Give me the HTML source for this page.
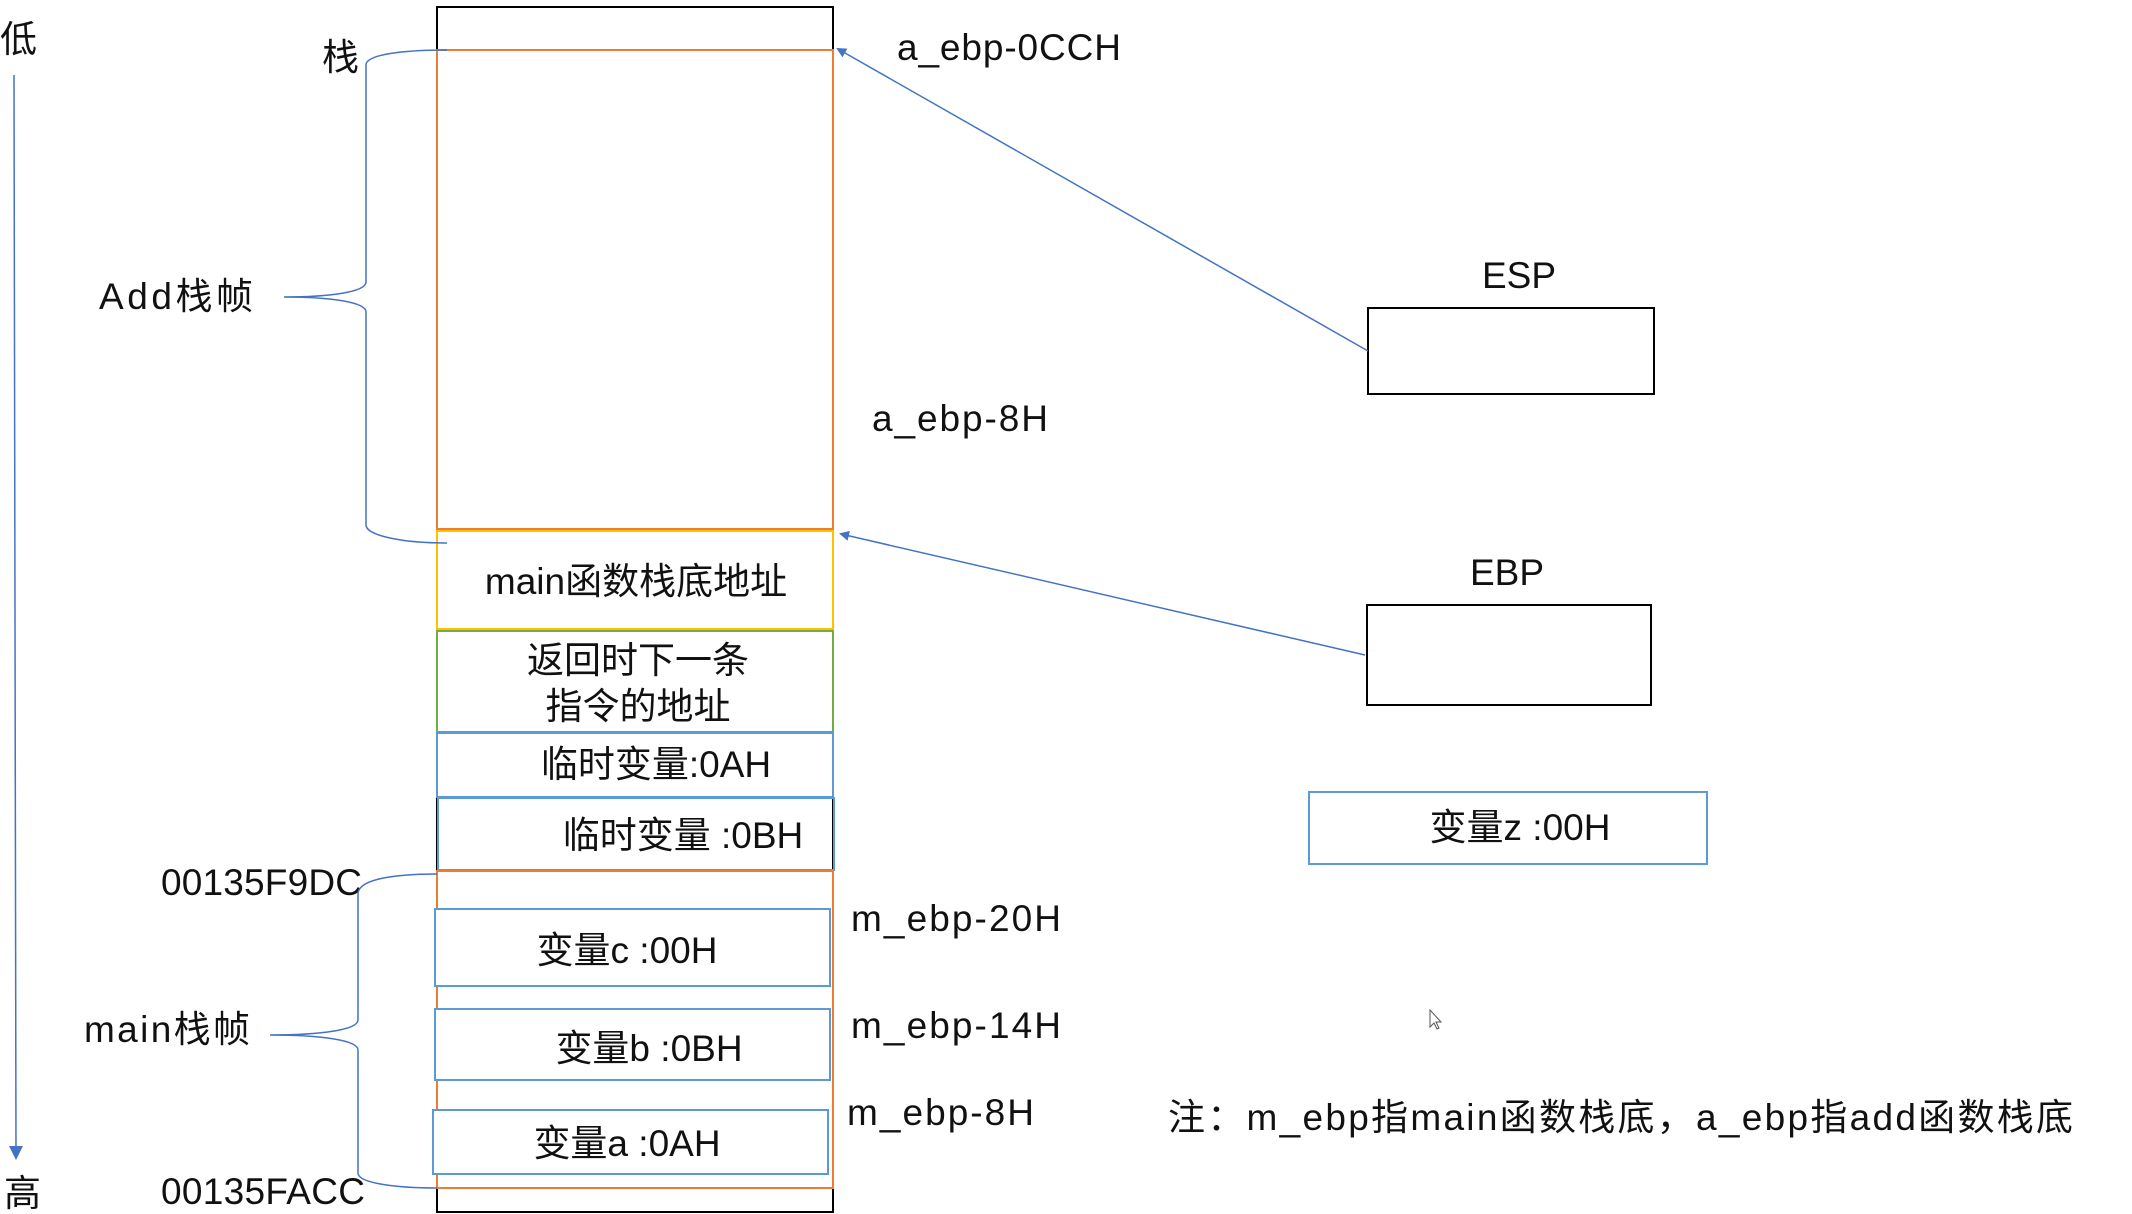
<!DOCTYPE html>
<html><head><meta charset="utf-8"><style>
html,body{margin:0;padding:0;background:#fff;}
svg{display:block;}
text{font-family:"Liberation Sans","Noto Sans CJK SC",sans-serif;fill:#111;font-size:37px;}
</style></head><body>
<svg width="2132" height="1214" viewBox="0 0 2132 1214" xmlns="http://www.w3.org/2000/svg">
<defs>
<marker id="ah" markerWidth="10" markerHeight="10" refX="8" refY="5" orient="auto" markerUnits="userSpaceOnUse" viewBox="0 0 10 10">
<path d="M0,0 L10,5 L0,10 z" fill="#4472c4"/></marker>
<marker id="ah2" markerWidth="14" markerHeight="14" refX="12" refY="7" orient="auto" markerUnits="userSpaceOnUse" viewBox="0 0 14 14">
<path d="M0,0 L14,7 L0,14 z" fill="#4472c4"/></marker>
</defs>
<text x="0" y="52" font-size="38">低</text>
<line x1="14" y1="75" x2="16" y2="1158" stroke="#4472c4" stroke-width="1.5" marker-end="url(#ah2)"/>
<text x="4" y="1206" font-size="38">高</text>

<rect x="437" y="7" width="396" height="1205" fill="none" stroke="#000" stroke-width="2"/>
<rect x="437" y="50" width="396" height="479" fill="none" stroke="#ed7d31" stroke-width="2"/>
<rect x="437" y="531" width="396" height="98" fill="none" stroke="#ffc000" stroke-width="2"/>
<rect x="437" y="631" width="396" height="101" fill="none" stroke="#70ad47" stroke-width="2"/>
<rect x="437" y="733" width="396" height="64" fill="none" stroke="#5b9bd5" stroke-width="2"/>
<rect x="438" y="798" width="396" height="72" fill="none" stroke="#5b9bd5" stroke-width="2"/>
<rect x="437" y="871" width="396" height="317" fill="none" stroke="#ed7d31" stroke-width="2"/>
<rect x="435" y="909" width="395" height="77" fill="#fff" stroke="#5b9bd5" stroke-width="2"/>
<rect x="435" y="1009" width="395" height="71" fill="#fff" stroke="#5b9bd5" stroke-width="2"/>
<rect x="433" y="1110" width="395" height="64" fill="#fff" stroke="#5b9bd5" stroke-width="2"/>

<g text-anchor="middle">
<text x="636" y="594">main函数栈底地址</text>
<text x="638" y="673">返回时下一条</text>
<text x="638" y="719">指令的地址</text>
<text x="656" y="777">临时变量:0AH</text>
<text x="683" y="848">临时变量 :0BH</text>
<text x="627" y="963">变量c :00H</text>
<text x="649" y="1061">变量b :0BH</text>
<text x="627" y="1156">变量a :0AH</text>
<text x="1519" y="288">ESP</text>
<text x="1507" y="585">EBP</text>
<text x="1520" y="840">变量z :00H</text>
</g>

<text x="322" y="70" font-size="38">栈</text>
<text x="897" y="60" textLength="224">a_ebp-0CCH</text>
<text x="872" y="431" textLength="176">a_ebp-8H</text>
<text x="99" y="309" textLength="154">Add栈帧</text>
<text x="161" y="895" textLength="201">00135F9DC</text>
<text x="161" y="1204" textLength="204">00135FACC</text>
<text x="84" y="1042" textLength="166">main栈帧</text>
<text x="851" y="931" textLength="210">m_ebp-20H</text>
<text x="851" y="1038" textLength="210">m_ebp-14H</text>
<text x="847" y="1125" textLength="187">m_ebp-8H</text>
<text x="1168" y="1130" textLength="905">注：m_ebp指main函数栈底，a_ebp指add函数栈底</text>

<rect x="1368" y="308" width="286" height="86" fill="none" stroke="#000" stroke-width="2"/>
<rect x="1367" y="605" width="284" height="100" fill="none" stroke="#000" stroke-width="2"/>
<rect x="1309" y="792" width="398" height="72" fill="none" stroke="#5b9bd5" stroke-width="2"/>

<line x1="1368" y1="351" x2="838" y2="49" stroke="#4472c4" stroke-width="1.5" marker-end="url(#ah)"/>
<line x1="1365" y1="655" x2="841" y2="534" stroke="#4472c4" stroke-width="1.5" marker-end="url(#ah)"/>

<path d="M447,50 C400,50 366,55 366,65 L366,282 C366,292 330,297 284,297 C330,297 366,302 366,312 L366,525 C366,535 400,543 447,543" fill="none" stroke="#4472c4" stroke-width="1.5"/>
<path d="M437,874 C395,874 358,879 358,894 L358,1020 C358,1030 320,1035 270,1035 C320,1035 358,1040 358,1050 L358,1173 C358,1183 395,1188 437,1188" fill="none" stroke="#4472c4" stroke-width="1.5"/>

<path d="M1430,1010 L1430,1027 L1434,1023 L1437,1029 L1439,1028 L1436,1022 L1441,1022 z" fill="#fff" stroke="#555" stroke-width="1"/>
</svg>
</body></html>
